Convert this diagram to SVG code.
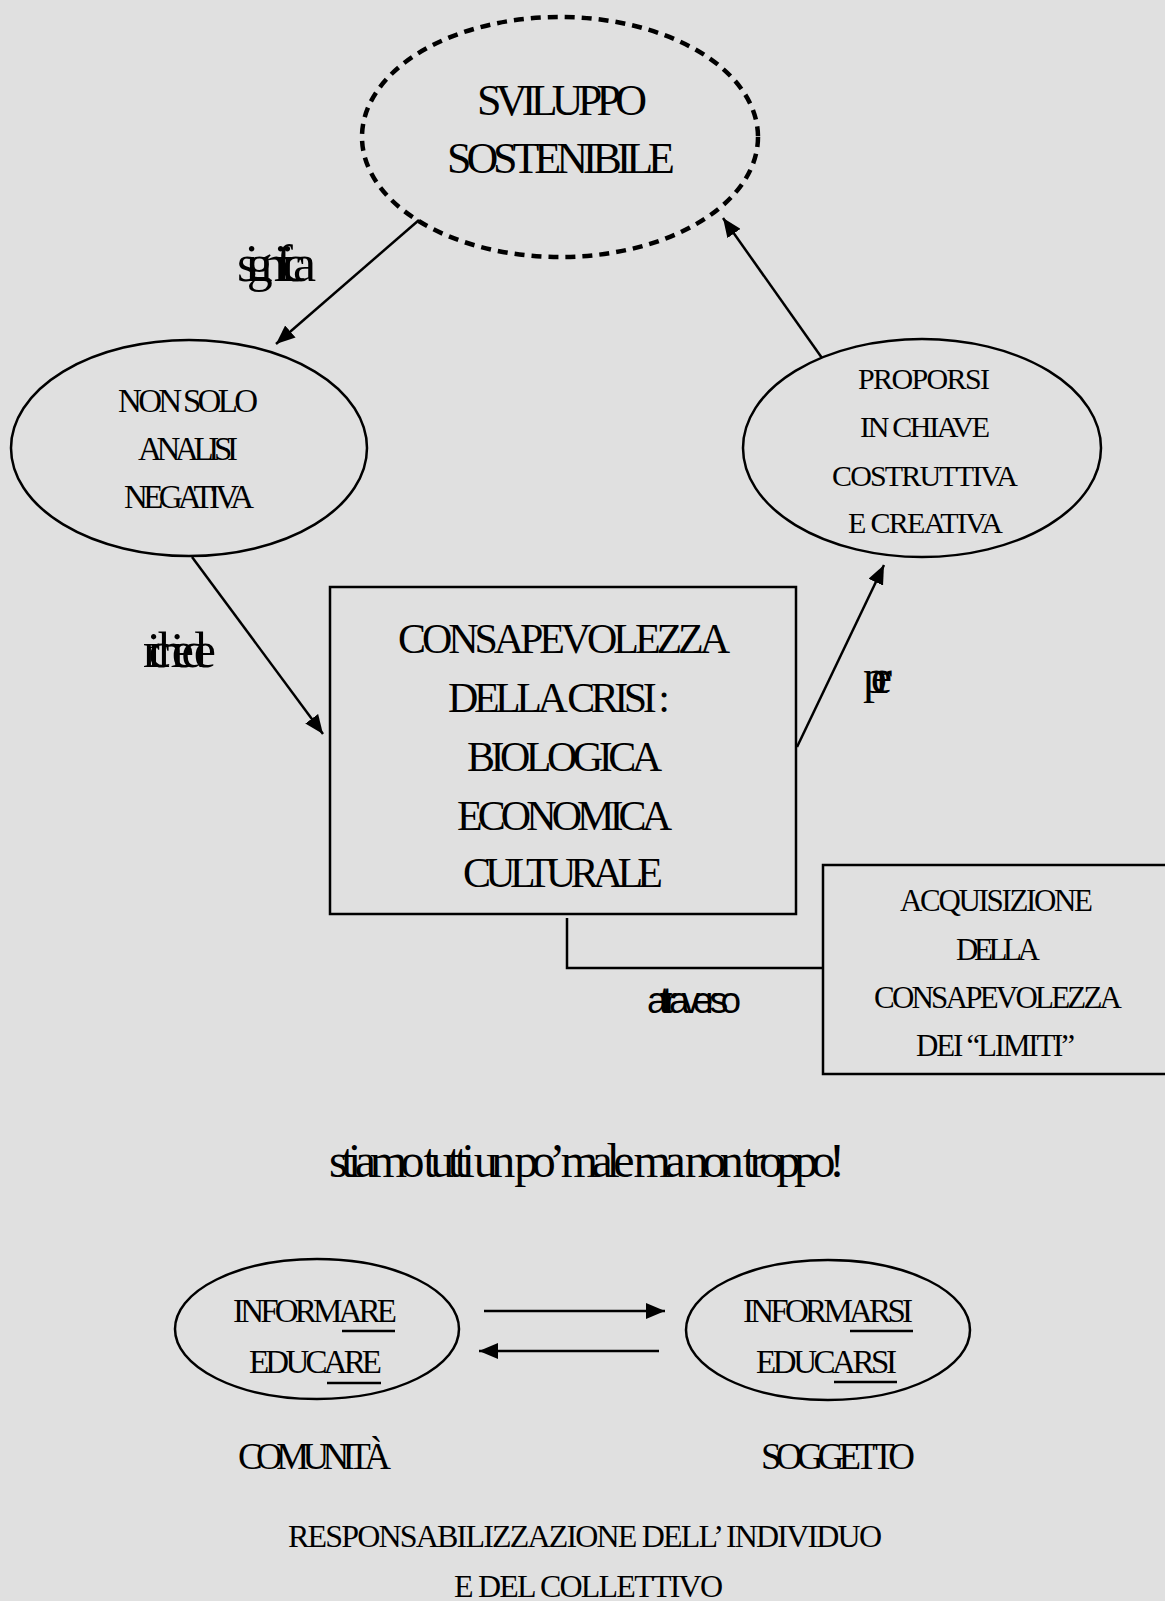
<svg xmlns="http://www.w3.org/2000/svg" width="1165" height="1601" viewBox="0 0 1165 1601">
  <style>
    .bg { fill: #e0e0e0; }
    .shape { fill: none; stroke: #000; stroke-width: 2.5; }
    .dashed { fill: none; stroke: #000; stroke-width: 4.5; stroke-dasharray: 10 7; }
    .edge { fill: none; stroke: #000; stroke-width: 2.5; }
    .ul { stroke: #000; stroke-width: 2.5; }
    text { font-family: "Liberation Serif", "Times New Roman", serif; fill: #000; }
    .sans { font-family: "Liberation Sans", Arial, sans-serif; }
  </style>
  <defs>
    <marker id="arrow" markerUnits="userSpaceOnUse" markerWidth="20" markerHeight="16" refX="19" refY="8" orient="auto">
      <path d="M0,0 L19,8 L0,16 z" fill="#000"/>
    </marker>
  </defs>

  <rect class="bg" x="0" y="0" width="1165" height="1601"/>

  <!-- connectors -->
  <g id="connectors">
    <line class="edge" x1="419" y1="220" x2="276" y2="344" marker-end="url(#arrow)"/>
    <line class="edge" x1="192" y1="557" x2="323" y2="734" marker-end="url(#arrow)"/>
    <line class="edge" x1="797" y1="747" x2="884" y2="565" marker-end="url(#arrow)"/>
    <line class="edge" x1="822" y1="358" x2="723" y2="218" marker-end="url(#arrow)"/>
    <polyline class="edge" points="567,918 567,968 823,968"/>
    <line class="edge" x1="484" y1="1311" x2="665" y2="1311" marker-end="url(#arrow)"/>
    <line class="edge" x1="659" y1="1351" x2="479" y2="1351" marker-end="url(#arrow)"/>
    <text font-size="52" x="237" y="281" textLength="79">significa</text>
    <text font-size="50" x="143" y="667" textLength="73">richiede</text>
    <text font-size="48" x="863" y="693" textLength="29">per</text>
    <text class="sans" font-size="37" x="647" y="1013" textLength="94">attraverso</text>
  </g>

  <!-- sustainable development -->
  <g id="sviluppo">
    <ellipse class="dashed" cx="560" cy="137" rx="198" ry="120"/>
    <text font-size="44" x="477" y="115" textLength="170">SVILUPPO</text>
    <text font-size="44" x="447" y="173" textLength="228">SOSTENIBILE</text>
  </g>

  <g id="non-solo">
    <ellipse class="shape" cx="189" cy="448" rx="178" ry="108"/>
    <text font-size="33" x="118" y="412" textLength="140">NON SOLO</text>
    <text font-size="33" x="138" y="460" textLength="100">ANALISI</text>
    <text font-size="33" x="124" y="508" textLength="130">NEGATIVA</text>
  </g>

  <g id="proporsi">
    <ellipse class="shape" cx="922" cy="448" rx="179" ry="109"/>
    <text font-size="30" x="858" y="389" textLength="132">PROPORSI</text>
    <text font-size="30" x="860" y="437" textLength="130">IN CHIAVE</text>
    <text font-size="30" x="832" y="486" textLength="186">COSTRUTTIVA</text>
    <text font-size="30" x="848" y="533" textLength="155">E CREATIVA</text>
  </g>

  <g id="consapevolezza-crisi">
    <rect class="shape" x="330" y="587" width="466" height="327"/>
    <text font-size="42" x="398" y="653" textLength="332">CONSAPEVOLEZZA</text>
    <text font-size="42" x="448" y="712" textLength="222">DELLA CRISI :</text>
    <text font-size="42" x="467" y="771" textLength="195">BIOLOGICA</text>
    <text font-size="42" x="457" y="830" textLength="215">ECONOMICA</text>
    <text font-size="42" x="463" y="887" textLength="200">CULTURALE</text>
  </g>

  <g id="acquisizione">
    <rect class="shape" x="823" y="865" width="350" height="209"/>
    <text font-size="31" x="900" y="911" textLength="193">ACQUISIZIONE</text>
    <text font-size="31" x="956" y="960" textLength="84">DELLA</text>
    <text font-size="31" x="874" y="1008" textLength="248">CONSAPEVOLEZZA</text>
    <text font-size="31" x="916" y="1056" textLength="159">DEI “LIMITI”</text>
  </g>

  <g id="motto">
    <text font-size="48" x="329" y="1177" textLength="516">stiamo tutti un po’ male ma non troppo!</text>
  </g>

  <g id="informare">
    <ellipse class="shape" cx="317" cy="1329" rx="142" ry="70"/>
    <text font-size="33" x="233" y="1322" textLength="164">INFORMARE</text>
    <line class="ul" x1="342" y1="1331" x2="395" y2="1331"/>
    <text font-size="33" x="249" y="1373" textLength="133">EDUCARE</text>
    <line class="ul" x1="327" y1="1383" x2="381" y2="1383"/>
  </g>

  <g id="informarsi">
    <ellipse class="shape" cx="828" cy="1330" rx="142" ry="70"/>
    <text font-size="33" x="743" y="1322" textLength="170">INFORMARSI</text>
    <line class="ul" x1="850" y1="1331" x2="913" y2="1331"/>
    <text font-size="33" x="756" y="1373" textLength="141">EDUCARSI</text>
    <line class="ul" x1="834" y1="1382" x2="897" y2="1382"/>
  </g>

  <g id="comunita">
    <text font-size="37" x="238" y="1469" textLength="153">COMUNITÀ</text>
  </g>

  <g id="soggetto">
    <text font-size="37" x="761" y="1469" textLength="154">SOGGETTO</text>
  </g>

  <g id="responsabilizzazione">
    <text font-size="32" x="288" y="1547" textLength="594">RESPONSABILIZZAZIONE DELL’ INDIVIDUO</text>
    <text font-size="32" x="454" y="1597" textLength="269">E DEL COLLETTIVO</text>
  </g>
</svg>
